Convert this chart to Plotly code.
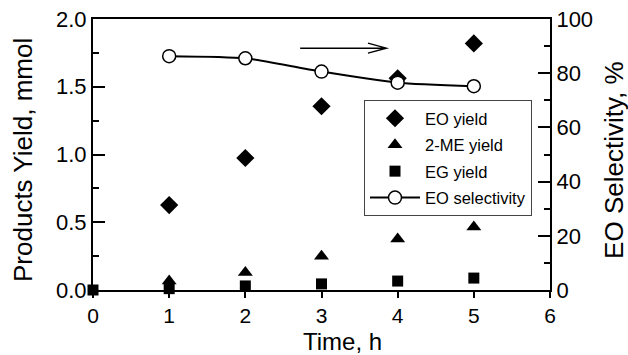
import plotly.graph_objects as go

time_eo = [1, 2, 3, 4, 5]
eo_yield = [0.627, 0.974, 1.356, 1.562, 1.82]
time_me = [1, 2, 3, 4, 5]
me_yield = [0.066, 0.13, 0.25, 0.376, 0.465]
time_eg = [0, 1, 2, 3, 4, 5]
eg_yield = [0.0, 0.01, 0.03, 0.045, 0.066, 0.088]
time_sel = [1, 2, 3, 4, 5]
eo_selectivity = [86.3, 85.5, 80.6, 76.5, 75.2]

FONT = "Liberation Sans, Arial, sans-serif"

fig = go.Figure()
fig.add_trace(go.Scatter(x=time_eo, y=eo_yield, mode="markers", name="EO yield", legendgroup="a",
                         marker=dict(symbol="diamond", size=14, color="black"), cliponaxis=False))
fig.add_trace(go.Scatter(x=time_me, y=me_yield, mode="markers", name="2-ME yield", legendgroup="b",
                         marker=dict(symbol="triangle-up", size=13, color="black"), cliponaxis=False))
fig.add_trace(go.Scatter(x=time_eg, y=eg_yield, mode="markers", name="EG yield", legendgroup="c",
                         marker=dict(symbol="square", size=11, color="black"), cliponaxis=False))
fig.add_trace(go.Scatter(x=time_sel, y=eo_selectivity, mode="lines+markers", name="EO selectivity",
                         legendgroup="d",
                         yaxis="y2", line=dict(color="black", width=2, shape="spline", smoothing=0.6),
                         marker=dict(symbol="circle", size=13, color="white",
                                     line=dict(color="black", width=1.5)), cliponaxis=False))

# arrow pointing to the right axis
ax0, ax1, ay = 2.72, 3.85, 1.785
fig.add_shape(type="path", xref="x", yref="y",
              path=f"M {ax0},{ay} L {ax1},{ay} M {ax1-0.24},{ay+0.037} L {ax1},{ay} L {ax1-0.24},{ay-0.037}",
              line=dict(color="black", width=1.5))

title_font = dict(family=FONT, size=26, color="black")
fig.add_annotation(text="Products Yield, mmol", xref="paper", yref="paper", x=-0.153, y=0.48,
                   textangle=-90, showarrow=False, font=title_font, xanchor="center", yanchor="middle")
fig.add_annotation(text="EO Selectivity, %", xref="paper", yref="paper", x=1.14, y=0.48,
                   textangle=-90, showarrow=False, font=title_font, xanchor="center", yanchor="middle")
fig.add_annotation(text="Time, h", xref="paper", yref="paper", x=0.547, y=-0.19,
                   showarrow=False, font=dict(family=FONT, size=24, color="black"),
                   xanchor="center", yanchor="middle")

fig.update_layout(
    width=628, height=355,
    margin=dict(l=93, r=78, t=19, b=65),
    paper_bgcolor="white", plot_bgcolor="white",
    font=dict(family=FONT, color="black", size=22),
    showlegend=True,
    legend=dict(x=0.593, y=0.701, xanchor="left", yanchor="top",
                bgcolor="white", bordercolor="#444", borderwidth=1,
                traceorder="grouped", tracegroupgap=2, itemwidth=50,
                font=dict(size=16.5, family=FONT)),
    xaxis=dict(range=[0, 6], dtick=1, showline=True, linecolor="black", linewidth=2,
               mirror=True, ticks="outside", ticklen=6, tickwidth=2, tickcolor="black",
               showgrid=False, zeroline=False, automargin=False,
               tickfont=dict(size=21)),
    yaxis=dict(range=[0, 2.0], dtick=0.5, tickformat=".1f", showline=True, linecolor="black",
               linewidth=2, ticks="inside", ticklen=12, tickwidth=2, tickcolor="black",
               minor=dict(dtick=0.25, ticks="inside", ticklen=6, tickwidth=2, tickcolor="black"),
               showgrid=False, zeroline=False, automargin=False,
               tickfont=dict(size=22)),
    yaxis2=dict(range=[0, 100], dtick=20, overlaying="y", side="right", showline=True,
                linecolor="black", linewidth=2, ticks="inside", ticklen=12, tickwidth=2,
                tickcolor="black",
                minor=dict(dtick=10, ticks="inside", ticklen=6, tickwidth=2, tickcolor="black"),
                showgrid=False, zeroline=False, automargin=False,
                tickfont=dict(size=22)),
)

fig.write_html("out.html", config={"displayModeBar": False},
               post_script="document.body.style.margin='0';")
